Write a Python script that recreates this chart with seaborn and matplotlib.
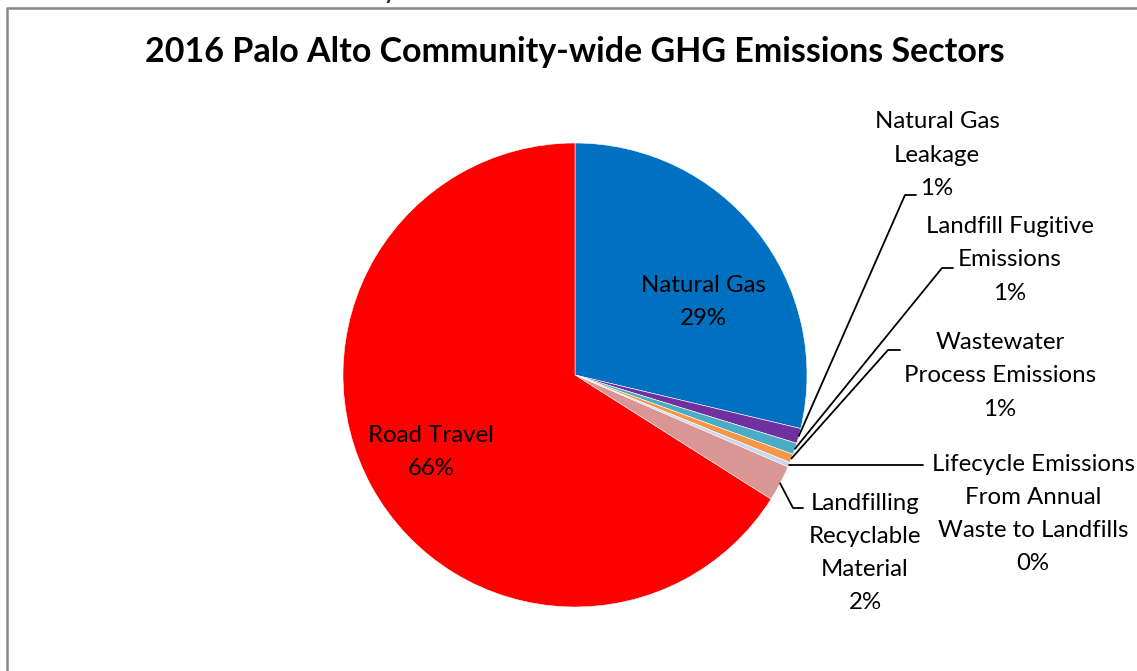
import numpy as np
import matplotlib
matplotlib.use("Agg")
import matplotlib.pyplot as plt
from matplotlib.lines import Line2D
import seaborn as sns

# ---- data ----
categories = ["Natural Gas", "Natural Gas Leakage", "Landfill Fugitive Emissions",
              "Wastewater Process Emissions", "Lifecycle Emissions From Annual Waste to Landfills",
              "Landfilling Recyclable Material", "Road Travel"]
values = [28.7, 1.05, 0.8, 0.6, 0.33, 2.5, 66.0]
pct_labels = ["29%", "1%", "1%", "1%", "0%", "2%", "66%"]
label_text = ["Natural Gas", "Natural Gas\nLeakage", "Landfill Fugitive\nEmissions",
              "Wastewater\nProcess Emissions", "Lifecycle Emissions\nFrom Annual\nWaste to Landfills",
              "Landfilling\nRecyclable\nMaterial", "Road Travel"]
colors = ["#0070C0", "#7030A0", "#4BACC6", "#F79646", "#C6D9F1", "#D99694", "#FF0000"]
title = "2016 Palo Alto Community-wide GHG Emissions Sectors"

sns.set_style("white")
plt.rcParams['font.family'] = ['Lato', 'DejaVu Sans']

W, H = 1137, 671
fig = plt.figure(figsize=(W / 100, H / 100), dpi=100)
fig.patch.set_facecolor("white")

cx, cy, R = 575, 375, 232
ax = fig.add_axes([(cx - R) / W, (H - cy - R) / H, 2 * R / W, 2 * R / H])
wedges, _ = ax.pie(values, colors=colors, startangle=90, counterclock=False,
                   wedgeprops=dict(edgecolor="white", linewidth=0.4))
ax.set_xlim(-1, 1)
ax.set_ylim(-1, 1)
ax.set_aspect("equal")
ax.axis("off")

def fx(px):
    return px / W

def fy(py):
    return 1 - py / H

fs = 17.3
ls = 1.72
# in-slice labels
for i, (px, py) in {0: (703, 302), 6: (431, 452)}.items():
    fig.text(fx(px), fy(py), label_text[i] + "\n" + pct_labels[i], ha="center", va="center",
             fontsize=fs, linespacing=ls, color="black")

# outside labels: text center and leader line corner/end (pixels)
outside = {
    1: dict(text=(937, 155), corner=(905, 195), end=(916, 195)),
    2: dict(text=(1010, 260), corner=(942, 268), end=(953, 268)),
    3: dict(text=(1000, 376), corner=(888, 350), end=(900, 350)),
    4: dict(text=(1033, 514), corner=None, end=(923, None)),
    5: dict(text=(865, 553), corner=(793, 508), end=(803, 508)),
}
for i, spec in outside.items():
    w = wedges[i]
    mid = np.deg2rad((w.theta1 + w.theta2) / 2)
    sx, sy = ax.transData.transform((np.cos(mid), np.sin(mid)))
    pts = [(sx / W, sy / H)]
    if spec["corner"] is not None:
        pts.append((fx(spec["corner"][0]), fy(spec["corner"][1])))
    ex, ey = spec["end"]
    pts.append((fx(ex), sy / H if ey is None else fy(ey)))
    xs, ys = zip(*pts)
    fig.add_artist(Line2D(xs, ys, color="black", linewidth=1.3, transform=fig.transFigure))
    fig.text(fx(spec["text"][0]), fy(spec["text"][1]), label_text[i] + "\n" + pct_labels[i],
             ha="center", va="center", fontsize=fs, linespacing=ls, color="black")

# title
fig.text(fx(575), fy(52), title, ha="center", va="center", fontsize=24.5,
         fontweight="bold", color="black")

# chart border (gray) and cut-off text fragment from above the chart
fig.add_artist(Line2D([fx(7), fx(7), fx(W + 5)], [fy(H + 5), fy(7.5), fy(7.5)],
                      color="#888888", linewidth=1.8, transform=fig.transFigure))
fig.text(fx(384), fy(-1), "y", ha="left", va="baseline", fontsize=16, fontweight="bold")

fig.savefig("out.png", dpi=100, facecolor="white")
